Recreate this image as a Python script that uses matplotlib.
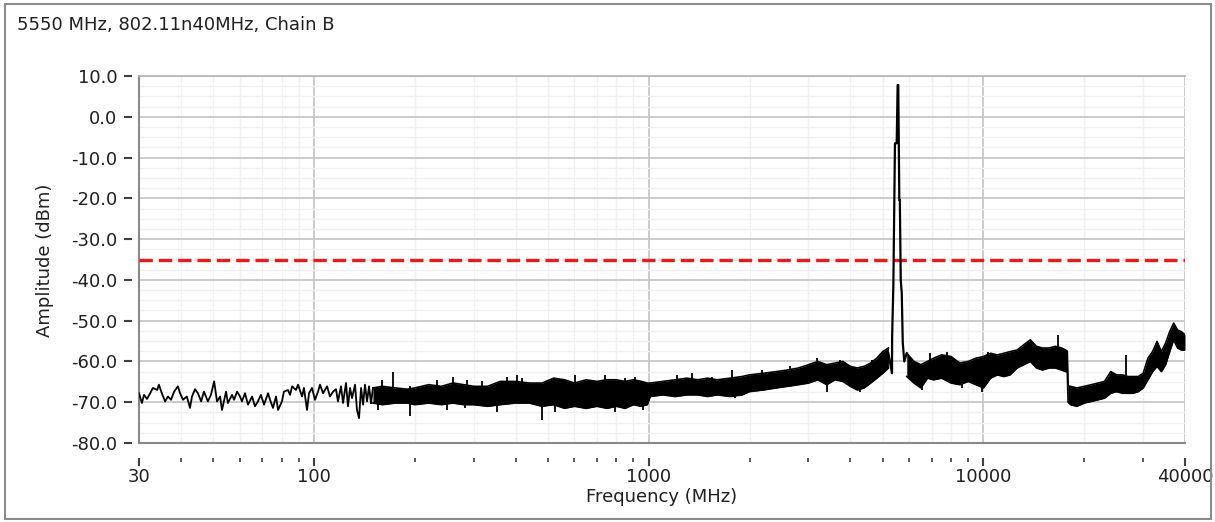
import matplotlib
matplotlib.use('Agg')
import matplotlib.pyplot as plt
import matplotlib.patches as patches

# ---- data ----
# sparse low-frequency part of the trace (MHz, dBm)
freq_low = [30.0, 30.6, 31.05, 31.7, 32.4, 33.0, 34.0, 34.4, 35.1, 35.9,
            36.6, 37.4, 38.2, 39.2, 39.8, 40.6, 41.7, 42.6, 43.2, 44.1,
            45.0, 46.0, 46.9, 48.2, 49.2, 50.3, 51.3, 52.4, 53.1, 54.6,
            55.3, 56.9, 57.7, 58.9, 60.1, 60.9, 62.2, 63.5, 65.3, 66.6,
            68.0, 69.4, 70.9, 72.9, 73.9, 75.4, 77.0, 78.1, 80.2, 81.3,
            83.6, 84.8, 86.0, 88.3, 89.6, 92.1, 93.3, 95.3, 96.6, 98.6,
            100.7, 102.8, 104.2, 106.4, 109.4, 111.6, 114.0, 116.3, 117.9, 120.4,
            122.1, 124.6, 126.3, 128.1, 129.9, 132.6, 134.4, 136.3, 138.2, 140.1,
            142.0, 144.0, 146.0, 148.0]
amp_low = [-67.8, -70.2, -68.2, -69.2, -67.8, -66.5, -67.0, -65.7, -67.8, -69.8,
           -68.6, -69.4, -67.4, -66.1, -67.8, -69.4, -68.6, -71.4, -68.6, -66.8,
           -67.8, -69.8, -67.4, -69.8, -68.2, -64.9, -69.8, -68.6, -71.9, -67.4,
           -70.2, -68.2, -69.4, -67.4, -68.6, -69.8, -67.8, -70.6, -68.6, -71.0,
           -69.8, -68.2, -70.6, -67.8, -69.4, -71.4, -68.6, -71.9, -69.8, -67.4,
           -67.0, -68.2, -66.1, -67.0, -65.7, -68.6, -66.5, -71.9, -67.8, -66.5,
           -69.4, -67.4, -65.7, -67.8, -66.1, -68.6, -67.4, -66.8, -69.8, -66.1,
           -70.2, -65.3, -71.0, -66.5, -69.0, -65.7, -71.9, -73.9, -66.5, -70.6,
           -65.7, -69.8, -66.1, -70.2]

# dense noise band below the carrier: upper / lower edge
freq_band1 = [150, 160, 175, 190, 200, 220, 240, 260, 280, 300,
              330, 360, 400, 440, 480, 520, 560, 600, 650, 700,
              750, 800, 850, 900, 950, 990, 1010, 1100, 1200, 1300,
              1400, 1500, 1600, 1750, 1900, 2000, 2200, 2400, 2600, 2800,
              3000, 3200, 3400, 3600, 3800, 4000, 4200, 4400, 4600, 4800,
              5000, 5200]
hi_band1 = [-66.5, -66.1, -66.5, -66.8, -66.5, -65.7, -66.1, -65.3, -65.7, -66.1,
            -66.1, -64.9, -64.9, -65.3, -65.3, -64.1, -64.5, -65.3, -64.5, -64.9,
            -64.5, -64.5, -64.9, -64.5, -64.9, -65.3, -65.3, -64.9, -64.5, -64.1,
            -64.5, -64.1, -64.5, -64.1, -63.7, -63.3, -62.9, -62.5, -62.1, -61.6,
            -60.8, -60.0, -60.8, -60.4, -60.0, -61.2, -61.6, -61.2, -60.4, -59.2,
            -57.6, -56.7]
lo_band1 = [-70.2, -70.6, -70.2, -70.2, -70.6, -70.2, -70.6, -70.2, -70.6, -70.6,
            -71.0, -70.6, -70.2, -70.2, -71.0, -70.6, -71.5, -71.0, -71.5, -71.0,
            -71.5, -71.0, -71.5, -70.6, -71.0, -70.6, -68.6, -68.2, -68.6, -68.2,
            -68.2, -68.6, -68.2, -68.6, -68.2, -67.4, -67.0, -66.5, -66.1, -65.7,
            -65.3, -64.5, -65.7, -64.5, -64.9, -66.1, -67.0, -66.5, -65.3, -64.1,
            -62.9, -61.6]

# carrier at 5550 MHz
freq_peak = [5200, 5330, 5335, 5380, 5440, 5505, 5540, 5565, 5605, 5625,
             5660, 5700, 5740, 5800, 5900]
amp_peak = [-58.0, -62.9, -53.9, -41.2, -6.5, -6.5, 7.8, 7.8, -20.4, -20.4,
            -40.0, -43.3, -55.5, -60.0, -58.0]

# dense noise band above the carrier
freq_band2 = [5900, 6200, 6500, 6800, 7100, 7500, 8000, 8500, 9000, 9500,
              10000, 10500, 11000, 11500, 12000, 12600, 13200, 13800, 14400, 15000,
              15700, 16400, 17100, 17600, 17800, 17900, 18200, 19000, 20000, 21000,
              22000, 23000, 24000, 25000, 26000, 27000, 28000, 29000, 30000, 31000,
              32000, 33000, 34000, 35000, 36000, 37000, 38000, 39000, 40000]
hi_band2 = [-58.0, -60.0, -60.8, -60.0, -59.2, -58.4, -58.8, -60.4, -60.0, -59.2,
            -58.8, -58.0, -58.4, -58.0, -57.6, -57.2, -55.9, -54.7, -56.3, -56.7,
            -56.7, -56.3, -56.7, -57.2, -57.5, -66.0, -66.1, -66.5, -66.1, -65.7,
            -65.3, -64.9, -62.5, -63.3, -63.3, -63.7, -63.7, -63.7, -62.9, -59.2,
            -57.6, -55.1, -57.6, -55.5, -52.7, -50.6, -52.3, -52.7, -53.5]
lo_band2 = [-63.7, -65.3, -66.5, -64.1, -64.5, -64.1, -65.3, -65.7, -64.9, -65.7,
            -66.5, -64.1, -63.3, -63.7, -63.3, -61.6, -60.8, -60.0, -61.6, -62.1,
            -61.6, -61.6, -62.1, -62.5, -62.5, -70.0, -70.6, -71.0, -70.2, -69.8,
            -69.4, -69.0, -67.8, -67.4, -67.8, -67.8, -67.8, -67.4, -66.5, -64.5,
            -62.5, -61.2, -62.5, -60.8, -57.6, -54.7, -56.7, -57.2, -57.2]

# isolated spikes sticking out of the band
spike_freq = [155, 160, 172, 193.6, 233, 250, 260, 283, 286, 318,
              352, 377, 404, 418, 480, 525, 602, 740, 793, 849,
              910, 961, 1215, 1347, 1546, 1773, 1810, 2180, 2643, 3183,
              3409, 3729, 4279, 4646, 6554, 6924, 7782, 8629, 9904, 10323,
              16700, 26670]
spike_top = [-67.5, -64.5, -62.7, -66.0, -64.5, -67.5, -63.7, -67.5, -64.5, -64.9,
             -66.0, -63.9, -63.3, -64.1, -66.0, -68.0, -63.3, -63.3, -68.0, -64.1,
             -63.7, -68.0, -63.3, -62.9, -63.7, -62.1, -66.0, -62.1, -61.2, -59.2,
             -63.0, -59.6, -63.5, -59.6, -63.0, -58.0, -57.6, -62.0, -62.0, -57.6,
             -53.5, -58.4]
spike_bottom = [-72.0, -67.0, -66.5, -73.5, -67.0, -71.9, -66.0, -71.5, -67.0, -67.0,
                -72.3, -66.0, -66.0, -66.5, -74.3, -72.3, -66.0, -66.0, -72.3, -66.5,
                -66.0, -71.9, -66.0, -65.0, -66.0, -64.5, -69.0, -64.5, -63.5, -62.0,
                -67.4, -62.0, -67.4, -62.0, -67.0, -61.0, -60.5, -66.5, -67.4, -60.5,
                -57.0, -63.5]

limit_dbm = -35.0

x_major = [30, 100, 1000, 10000, 40000]
x_labels = ['30', '100', '1000', '10000', '40000']
x_minor = [40, 50, 60, 70, 80, 90, 200, 300, 400, 500, 600, 700, 800, 900,
           2000, 3000, 4000, 5000, 6000, 7000, 8000, 9000, 20000, 30000]
y_major = [-80, -70, -60, -50, -40, -30, -20, -10, 0, 10]
y_minor = [-77.5, -75, -72.5, -67.5, -65, -62.5, -57.5, -55, -52.5, -47.5, -45, -42.5,
           -37.5, -35, -32.5, -27.5, -25, -22.5, -17.5, -15, -12.5, -7.5, -5, -2.5,
           2.5, 5, 7.5]

# ---- figure ----
W, H = 1215, 522
fig = plt.figure(figsize=(W / 100, H / 100), dpi=100)
ax = fig.add_axes([139 / W, 1 - 443 / H, (1185 - 139) / W, (443 - 76) / H])
ax.set_xscale('log')
ax.set_xlim(30, 40000)
ax.set_ylim(-80, 10)

ax.set_xticks(x_major)
ax.set_xticklabels(x_labels)
ax.set_xticks(x_minor, minor=True)
ax.set_xticklabels([], minor=True)
ax.set_yticks(y_major)
ax.set_yticklabels(['%.1f' % v for v in y_major])
ax.set_yticks(y_minor, minor=True)

ax.grid(which='major', color='#c8c8c8', lw=1.3)
ax.grid(which='minor', color='#f1f1f1', lw=1.0)
ax.set_axisbelow(True)

# ticks sit a little away from the plot frame
for side in ['left', 'bottom', 'top', 'right']:
    ax.spines[side].set_visible(False)
ax.spines['left'].set_position(('outward', 5))
ax.spines['bottom'].set_position(('outward', 11))
ax.tick_params(axis='y', which='major', direction='out', length=5.5, width=1.5,
               color='#404040', pad=5, labelsize=13, labelcolor='#202020')
ax.tick_params(axis='y', which='minor', length=0)
ax.tick_params(axis='x', which='major', direction='out', length=5.5, width=1.5,
               color='#404040', pad=1.5, labelsize=13, labelcolor='#202020')
ax.tick_params(axis='x', which='minor', direction='out', length=3.2, width=1.2,
               color='#404040')

# plot frame
ax.axvline(30, color='#8a8a8a', lw=1.5, clip_on=False, zorder=1)
ax.axhline(-80, color='#8a8a8a', lw=1.5, clip_on=False, zorder=1)
ax.axhline(10, color='#b4b4b4', lw=1.2, clip_on=False, zorder=1)

# limit line
ax.axhline(limit_dbm, color='#f01818', lw=2.4, dashes=(4.0, 1.8), zorder=2)

# trace
ax.plot(freq_low, amp_low, color='black', lw=1.3, zorder=3)
ax.plot([freq_low[-1], freq_band1[0]], [amp_low[-1], hi_band1[0]], color='black', lw=1.3, zorder=3)
for fb, lo, hi in [(freq_band1, lo_band1, hi_band1), (freq_band2, lo_band2, hi_band2)]:
    ax.fill_between(fb, lo, hi, color='black', lw=0, zorder=3)
    ax.plot(fb, hi, color='black', lw=1.2, zorder=3)
    ax.plot(fb, lo, color='black', lw=1.2, zorder=3)
ax.plot(freq_peak, amp_peak, color='black', lw=1.6, zorder=3)
ax.vlines(spike_freq, spike_bottom, spike_top, color='black', lw=1.3, zorder=3)

# texts
fig.text(17 / W, 1 - 25 / H, '5550 MHz, 802.11n40MHz, Chain B', ha='left', va='center',
         fontsize=13, color='#202020')
fig.text(662 / W, 1 - 497 / H, 'Frequency (MHz)', ha='center', va='center',
         fontsize=13, color='#202020')
fig.text(45 / W, 1 - 260 / H, 'Amplitude (dBm)', ha='center', va='center',
         rotation=90, fontsize=13, color='#202020')

# outer border
border = patches.Rectangle((5 / W, 3 / H), 1206 / W, 515 / H, transform=fig.transFigure,
                           fill=False, edgecolor='#8c8c8c', lw=1.5)
fig.add_artist(border)

fig.savefig('out.png', dpi=100)
